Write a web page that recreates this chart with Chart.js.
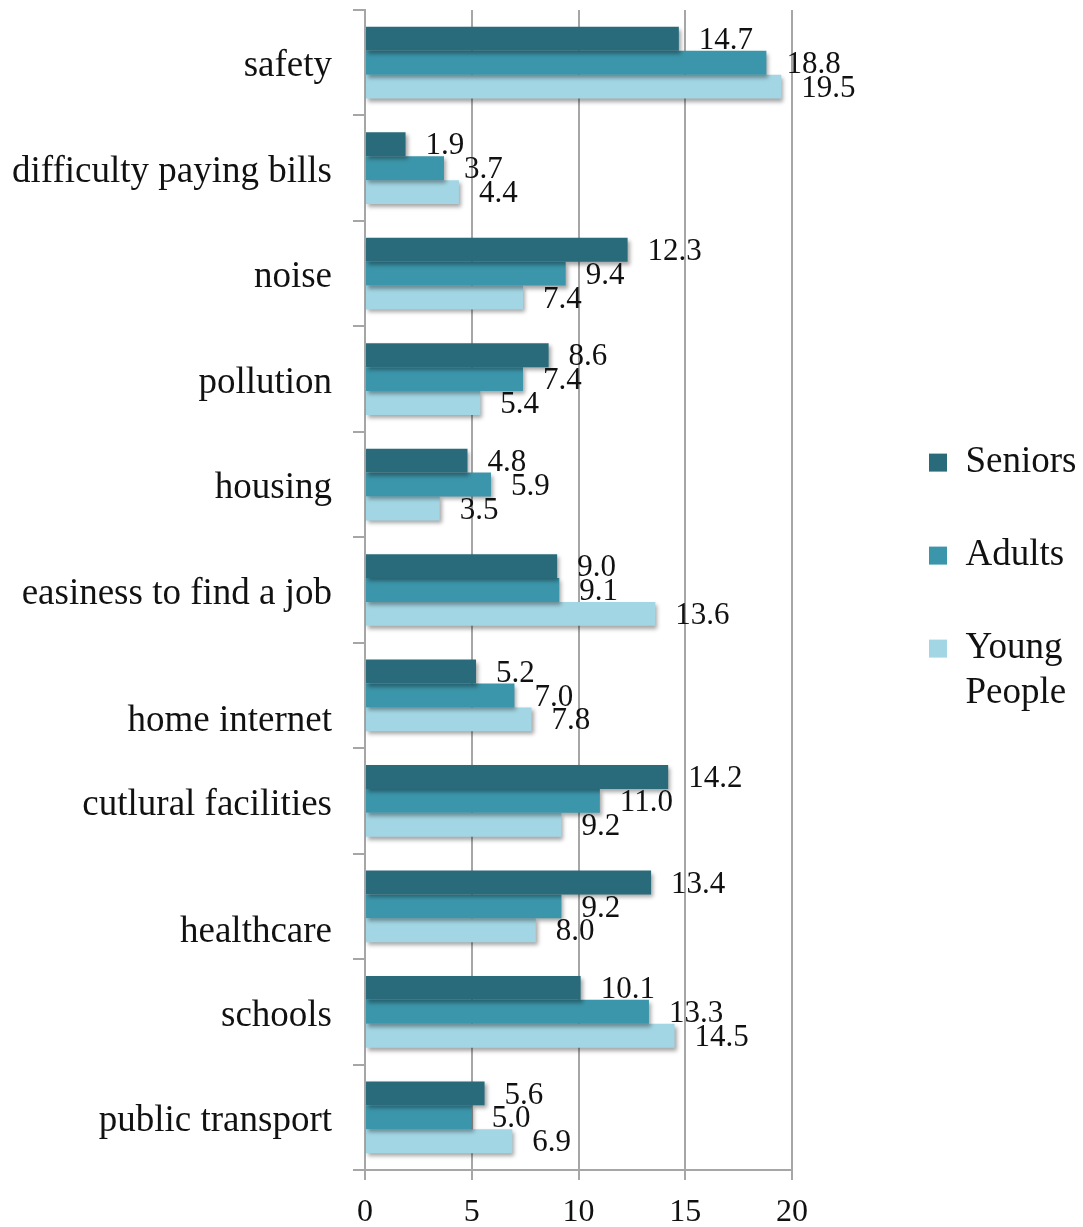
<!DOCTYPE html>
<html>
<head>
<meta charset="UTF-8"/>
<title>Bar Chart</title>
<script src="https://cdn.jsdelivr.net/npm/chart.js@4.4.0/dist/chart.umd.min.js"></script>
<style>
    body { margin: 0; background: #fff; }
    #barChartContainer {
        width: 1083px;
        height: 1227px;
    }
</style>
</head>
<body>
<div id="barChartContainer">
    <canvas id="barChart"></canvas>
</div>
<script type="text/javascript">

    // 항목
    var categories = [
        "safety", "difficulty paying bills", "noise", "pollution", "housing",
        "easiness to find a job", ["", "home internet"], "cutlural facilities",
        ["", "healthcare"], "schools", "public transport"
    ];

    // 계열별 값
    var seniors     = [14.7, 1.9, 12.3, 8.6, 4.8, 9.0, 5.2, 14.2, 13.4, 10.1, 5.6];
    var adults      = [18.8, 3.7, 9.4, 7.4, 5.9, 9.1, 7.0, 11.0, 9.2, 13.3, 5.0];
    var youngPeople = [19.5, 4.4, 7.4, 5.4, 3.5, 13.6, 7.8, 9.2, 8.0, 14.5, 6.9];

    // x축 눈금
    var xTicks = [0, 5, 10, 15, 20];

    var gridColor = "#a6a6a6";
    var serif = "'Liberation Serif', 'Times New Roman', serif";

    // 막대 그림자 + 값 라벨
    var barShadow = {
        id: 'barShadow',
        beforeDatasetsDraw: function(chart) {
            var ctx = chart.ctx;
            ctx.save();
            ctx.shadowColor = "rgba(0,0,0,0.35)";
            ctx.shadowBlur = 4;
            ctx.shadowOffsetX = 2;
            ctx.shadowOffsetY = 3;
        },
        afterDatasetsDraw: function(chart) {
            var ctx = chart.ctx;
            ctx.restore();
            ctx.save();
            ctx.font = "31px " + serif;
            ctx.fillStyle = "#111";
            ctx.textAlign = "left";
            ctx.textBaseline = "middle";
            chart.data.datasets.forEach(function(ds, i) {
                var meta = chart.getDatasetMeta(i);
                meta.data.forEach(function(bar, j) {
                    ctx.fillText(ds.data[j].toFixed(1), bar.x + 20, bar.y + 2);
                });
            });
            ctx.restore();
        }
    };

    // 범례를 오른쪽으로 밀기
    var legendPlace = {
        id: 'legendPlace',
        beforeLayout: function(chart) {
            var lg = chart.legend;
            if (lg && !lg._wide) {
                var fit = lg.fit;
                lg.fit = function() {
                    fit.call(this);
                    this.width = 291;
                };
                lg._wide = true;
            }
        },
        afterLayout: function(chart) {
            var lg = chart.legend;
            var w = lg.right - lg.left;
            lg.left = 873;
            lg.right = lg.left + w;
            lg.top -= 37;
            lg.bottom -= 37;
        }
    };

    var ctx = document.getElementById("barChart").getContext('2d');
    var myBarChart = new Chart(ctx, {
        type: 'bar',
        data: {
            labels: categories,
            datasets: [{
                label: 'Seniors',
                data: seniors,
                backgroundColor: "#2a6b7b"
            }, {
                label: 'Adults',
                data: adults,
                backgroundColor: "#3c96ab"
            }, {
                label: ['Young', 'People'],
                data: youngPeople,
                backgroundColor: "#a3d6e4"
            }]
        },
        plugins: [barShadow, legendPlace],
        options: {
            indexAxis: 'y',
            responsive: true,
            maintainAspectRatio: false,
            animation: false,
            categoryPercentage: 0.68,
            barPercentage: 1.0,
            layout: {
                padding: { top: 10, bottom: 0, left: 8, right: 0 }
            },
            scales: {
                x: {
                    min: 0,
                    max: 20,
                    afterBuildTicks: function(scale) {
                        scale.ticks = xTicks.map(function(v) { return { value: v }; });
                    },
                    afterFit: function(scale) {
                        scale.height = 57;
                        scale.paddingLeft = 0;
                        scale.paddingRight = 0;
                    },
                    grid: {
                        color: gridColor,
                        lineWidth: 2,
                        tickLength: 10
                    },
                    border: { color: gridColor, width: 2 },
                    ticks: {
                        color: "#111",
                        padding: 13,
                        font: { family: serif, size: 32 }
                    }
                },
                y: {
                    afterFit: function(scale) {
                        scale.width = 357;
                        scale.paddingTop = 0;
                        scale.paddingBottom = 0;
                    },
                    grid: {
                        offset: true,
                        drawOnChartArea: false,
                        color: gridColor,
                        lineWidth: 2,
                        tickLength: 12
                    },
                    border: { color: gridColor, width: 2 },
                    ticks: {
                        color: "#111",
                        padding: 21,
                        labelOffset: 4,
                        font: { family: serif, size: 37 }
                    }
                }
            },
            plugins: {
                legend: {
                    position: 'right',
                    align: 'center',
                    onClick: function() { return false; },
                    labels: {
                        boxWidth: 18,
                        boxHeight: 18,
                        padding: 56,
                        color: "#111",
                        font: { family: serif, size: 37 }
                    }
                },
                tooltip: { enabled: false }
            }
        }
    });
</script>
</body>
</html>
